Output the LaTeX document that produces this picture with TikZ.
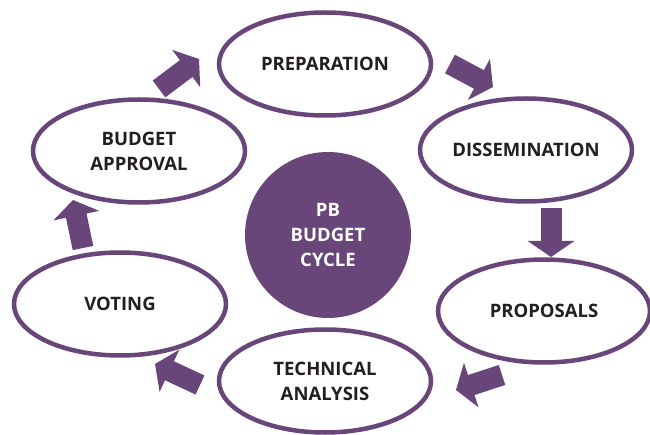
\documentclass[tikz,border=0pt]{standalone}
\usepackage{fontspec}
\setmainfont{Open Sans}
\usetikzlibrary{shapes.geometric,arrows.meta}
\definecolor{pb}{RGB}{104,70,122}
\definecolor{ink}{RGB}{35,31,32}
\begin{document}
\begin{tikzpicture}[x=1pt,y=-1pt,
  stage/.style={ellipse,draw=pb,line width=4.5pt,fill=white,minimum width=212pt,minimum height=103pt,
    align=center,text=ink,inner sep=0pt,font=\bfseries\fontsize{18.5}{25}\selectfont},
  hub/.style={circle,fill=pb,minimum size=166pt,inner sep=0pt,align=center,text=white,
    font=\bfseries\fontsize{18.5}{25}\selectfont},
  flow/.style={draw=pb,line width=21pt,-{Triangle[length=16pt,width=46pt]}}]
\useasboundingbox (0,0) rectangle (650,435);
\node[hub] (hub) at (328,235) {PB\\BUDGET\\CYCLE};
\node[stage] (prep) at (325,64) {PREPARATION};
\node[stage] (diss) at (526,150) {DISSEMINATION};
\node[stage] (prop) at (544,311) {PROPOSALS};
\node[stage] (tech) at (325,381) {TECHNICAL\\ANALYSIS};
\node[stage] (vote) at (120,304) {VOTING};
\node[stage] (appr) at (139,151) {BUDGET\\APPROVAL};
\coordinate (a1s) at (159,89);  \coordinate (a1e) at (199,59);
\coordinate (a2s) at (450,64);  \coordinate (a2e) at (493,87);
\coordinate (a3s) at (551,208); \coordinate (a3e) at (551,257);
\coordinate (a4s) at (502,375); \coordinate (a4e) at (456,390);
\coordinate (a5s) at (200,385); \coordinate (a5e) at (155,364);
\coordinate (a6s) at (83,248);  \coordinate (a6e) at (73,200);
\draw[flow] (a1s) -- (a1e);
\draw[flow] (a2s) -- (a2e);
\draw[flow] (a3s) -- (a3e);
\draw[flow] (a4s) -- (a4e);
\draw[flow] (a5s) -- (a5e);
\draw[flow] (a6s) -- (a6e);
\end{tikzpicture}
\end{document}
